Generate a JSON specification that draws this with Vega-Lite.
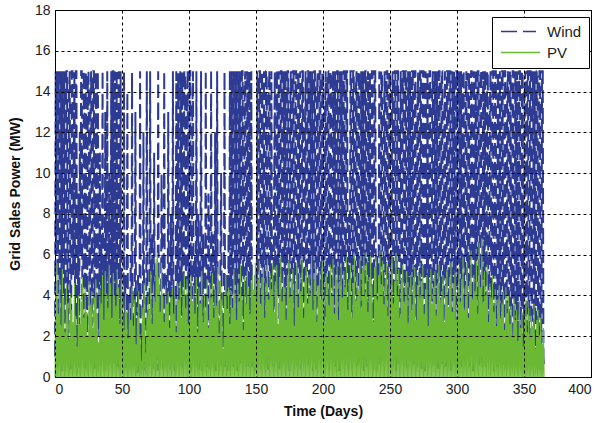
{
"$schema":"https://vega.github.io/schema/vega-lite/v6.json",
"width":536,"height":367,
"autosize":{"type":"none"},
"padding":{"left":55,"top":10,"right":14,"bottom":46},
"background":"white",
"config":{"view":{"stroke":"black","strokeWidth":1},"font":"Liberation Sans"},
"data":{"values":[
{"t":0,"Wind":1,"PV":0},{"t":0.5,"Wind":15,"PV":4.2},
{"t":1,"Wind":6,"PV":0},{"t":1.5,"Wind":15,"PV":5.6},
{"t":2,"Wind":0.5,"PV":0},{"t":2.5,"Wind":13,"PV":3.1},
{"t":3,"Wind":15,"PV":0},{"t":3.5,"Wind":2,"PV":4.8},
{"t":4,"Wind":9,"PV":0},{"t":4.5,"Wind":15,"PV":2.5},
{"t":5,"Wind":0.3,"PV":0},{"t":5.5,"Wind":15,"PV":5.3},
{"t":6,"Wind":12,"PV":0},{"t":6.5,"Wind":3,"PV":3.9},
{"t":7,"Wind":15,"PV":0},{"t":7.5,"Wind":1,"PV":2.2},
{"t":8,"Wind":4,"PV":0},{"t":8.5,"Wind":15,"PV":4.5},
{"t":9,"Wind":15,"PV":0},{"t":9.5,"Wind":0.8,"PV":3.6},
{"t":10,"Wind":7,"PV":0},{"t":10.5,"Wind":14,"PV":1.8},
{"t":11,"Wind":15,"PV":0},{"t":11.5,"Wind":2,"PV":4.1},
{"t":12,"Wind":0.4,"PV":0},{"t":12.5,"Wind":15,"PV":3.3},
{"t":13,"Wind":15,"PV":0},{"t":13.5,"Wind":5,"PV":2.7},
{"t":14,"Wind":11,"PV":0},{"t":14.5,"Wind":15,"PV":4.6},
{"t":15,"Wind":1.5,"PV":0},{"t":15.5,"Wind":15,"PV":3.0},
{"t":16,"Wind":15,"PV":0},{"t":16.5,"Wind":0.6,"PV":1.5},
{"t":17,"Wind":3,"PV":0},{"t":17.5,"Wind":9,"PV":4.0},
{"t":18,"Wind":0.5,"PV":0},{"t":18.5,"Wind":12,"PV":2.6},
{"t":19,"Wind":6,"PV":0},{"t":19.5,"Wind":15,"PV":3.7},
{"t":20,"Wind":15,"PV":0},{"t":20.5,"Wind":1,"PV":4.9},
{"t":21,"Wind":2,"PV":0},{"t":21.5,"Wind":15,"PV":2.9},
{"t":22,"Wind":13,"PV":0},{"t":22.5,"Wind":0.3,"PV":4.4},
{"t":23,"Wind":15,"PV":0},{"t":23.5,"Wind":4,"PV":3.2},
{"t":24,"Wind":0.7,"PV":0},{"t":24.5,"Wind":15,"PV":2.0},
{"t":25,"Wind":15,"PV":0},{"t":25.5,"Wind":8,"PV":4.7},
{"t":26,"Wind":1,"PV":0},{"t":26.5,"Wind":14,"PV":3.5},
{"t":27,"Wind":15,"PV":0},{"t":27.5,"Wind":2.5,"PV":4.2},
{"t":28,"Wind":5,"PV":0},{"t":28.5,"Wind":15,"PV":2.4},
{"t":29,"Wind":15,"PV":0},{"t":29.5,"Wind":0.4,"PV":3.9},
{"t":30,"Wind":10,"PV":0},{"t":30.5,"Wind":15,"PV":4.8},
{"t":31,"Wind":0.8,"PV":0},{"t":31.5,"Wind":15,"PV":3.1},
{"t":32,"Wind":15,"PV":0},{"t":32.5,"Wind":3,"PV":1.7},
{"t":33,"Wind":2,"PV":0},{"t":33.5,"Wind":11,"PV":4.3},
{"t":34,"Wind":0.5,"PV":0},{"t":34.5,"Wind":7,"PV":3.6},
{"t":35,"Wind":4,"PV":0},{"t":35.5,"Wind":15,"PV":5.0},
{"t":36,"Wind":1,"PV":0},{"t":36.5,"Wind":6,"PV":2.8},
{"t":37,"Wind":0.3,"PV":0},{"t":37.5,"Wind":13,"PV":5.2},
{"t":38,"Wind":3,"PV":0},{"t":38.5,"Wind":2,"PV":4.1},
{"t":39,"Wind":15,"PV":0},{"t":39.5,"Wind":1,"PV":3.4},
{"t":40,"Wind":0.6,"PV":0},{"t":40.5,"Wind":10,"PV":5.5},
{"t":41,"Wind":2,"PV":0},{"t":41.5,"Wind":5,"PV":4.6},
{"t":42,"Wind":15,"PV":0},{"t":42.5,"Wind":0.8,"PV":2.9},
{"t":43,"Wind":15,"PV":0},{"t":43.5,"Wind":15,"PV":5.1},
{"t":44,"Wind":0.7,"PV":0},{"t":44.5,"Wind":15,"PV":4.0},
{"t":45,"Wind":12,"PV":0},{"t":45.5,"Wind":2,"PV":3.5},
{"t":46,"Wind":15,"PV":0},{"t":46.5,"Wind":0.5,"PV":5.3},
{"t":47,"Wind":3,"PV":0},{"t":47.5,"Wind":15,"PV":4.4},
{"t":48,"Wind":0.4,"PV":0},{"t":48.5,"Wind":4,"PV":2.6},
{"t":49,"Wind":15,"PV":0},{"t":49.5,"Wind":1,"PV":4.8},
{"t":50,"Wind":2,"PV":0},{"t":50.5,"Wind":3,"PV":3.9},
{"t":51,"Wind":0.5,"PV":0},{"t":51.5,"Wind":15,"PV":2.3},
{"t":52,"Wind":1,"PV":0},{"t":52.5,"Wind":5,"PV":4.1},
{"t":53,"Wind":0.3,"PV":0},{"t":53.5,"Wind":2,"PV":3.2},
{"t":54,"Wind":14,"PV":0},{"t":54.5,"Wind":1,"PV":1.9},
{"t":55,"Wind":4,"PV":0},{"t":55.5,"Wind":0.5,"PV":3.6},
{"t":56,"Wind":2,"PV":0},{"t":56.5,"Wind":6,"PV":2.8},
{"t":57,"Wind":0.4,"PV":0},{"t":57.5,"Wind":15,"PV":4.4},
{"t":58,"Wind":1.5,"PV":0},{"t":58.5,"Wind":3,"PV":2.5},
{"t":59,"Wind":0.5,"PV":0},{"t":59.5,"Wind":2,"PV":3.8},
{"t":60,"Wind":13,"PV":0},{"t":60.5,"Wind":1,"PV":1.6},
{"t":61,"Wind":3,"PV":0},{"t":61.5,"Wind":0.2,"PV":3.0},
{"t":62,"Wind":5,"PV":0},{"t":62.5,"Wind":1.5,"PV":4.2},
{"t":63,"Wind":0.3,"PV":0},{"t":63.5,"Wind":15,"PV":2.1},
{"t":64,"Wind":0.5,"PV":0},{"t":64.5,"Wind":1,"PV":0.8},
{"t":65,"Wind":2,"PV":0},{"t":65.5,"Wind":0.4,"PV":3.4},
{"t":66,"Wind":12,"PV":0},{"t":66.5,"Wind":3,"PV":4.6},
{"t":67,"Wind":0.3,"PV":0},{"t":67.5,"Wind":0.5,"PV":1.2},
{"t":68,"Wind":1,"PV":0},{"t":68.5,"Wind":15,"PV":2.9},
{"t":69,"Wind":4,"PV":0},{"t":69.5,"Wind":0.6,"PV":4.0},
{"t":70,"Wind":0.5,"PV":0},{"t":70.5,"Wind":2,"PV":3.3},
{"t":71,"Wind":15,"PV":0},{"t":71.5,"Wind":1,"PV":5.2},
{"t":72,"Wind":3,"PV":0},{"t":72.5,"Wind":7,"PV":2.6},
{"t":73,"Wind":0.4,"PV":0},{"t":73.5,"Wind":1,"PV":4.5},
{"t":74,"Wind":11,"PV":0},{"t":74.5,"Wind":2,"PV":3.7},
{"t":75,"Wind":0.6,"PV":0},{"t":75.5,"Wind":5,"PV":5.8},
{"t":76,"Wind":2,"PV":0},{"t":76.5,"Wind":0.3,"PV":6.1},
{"t":77,"Wind":15,"PV":0},{"t":77.5,"Wind":1.5,"PV":4.9},
{"t":78,"Wind":0.5,"PV":0},{"t":78.5,"Wind":4,"PV":3.2},
{"t":79,"Wind":1,"PV":0},{"t":79.5,"Wind":10,"PV":5.6},
{"t":80,"Wind":6,"PV":0},{"t":80.5,"Wind":0.4,"PV":4.0},
{"t":81,"Wind":0.3,"PV":0},{"t":81.5,"Wind":15,"PV":2.7},
{"t":82,"Wind":2,"PV":0},{"t":82.5,"Wind":1,"PV":4.5},
{"t":83,"Wind":5,"PV":0},{"t":83.5,"Wind":0.5,"PV":3.6},
{"t":84,"Wind":0.8,"PV":0},{"t":84.5,"Wind":13,"PV":4.2},
{"t":85,"Wind":3,"PV":0},{"t":85.5,"Wind":1,"PV":2.4},
{"t":86,"Wind":0.4,"PV":0},{"t":86.5,"Wind":8,"PV":3.9},
{"t":87,"Wind":1,"PV":0},{"t":87.5,"Wind":2,"PV":4.4},
{"t":88,"Wind":15,"PV":0},{"t":88.5,"Wind":0.6,"PV":3.1},
{"t":89,"Wind":4,"PV":0},{"t":89.5,"Wind":0.3,"PV":4.0},
{"t":90,"Wind":0.5,"PV":0},{"t":90.5,"Wind":15,"PV":2.2},
{"t":91,"Wind":9,"PV":0},{"t":91.5,"Wind":2,"PV":4.6},
{"t":92,"Wind":15,"PV":0},{"t":92.5,"Wind":1,"PV":3.8},
{"t":93,"Wind":0.5,"PV":0},{"t":93.5,"Wind":15,"PV":4.7},
{"t":94,"Wind":12,"PV":0},{"t":94.5,"Wind":3,"PV":2.9},
{"t":95,"Wind":15,"PV":0},{"t":95.5,"Wind":0.4,"PV":4.3},
{"t":96,"Wind":2,"PV":0},{"t":96.5,"Wind":15,"PV":5.1},
{"t":97,"Wind":15,"PV":0},{"t":97.5,"Wind":6,"PV":3.4},
{"t":98,"Wind":0.7,"PV":0},{"t":98.5,"Wind":14,"PV":4.8},
{"t":99,"Wind":15,"PV":0},{"t":99.5,"Wind":2,"PV":2.6},
{"t":100,"Wind":4,"PV":0},{"t":100.5,"Wind":15,"PV":4.2},
{"t":101,"Wind":15,"PV":0},{"t":101.5,"Wind":0.3,"PV":5.0},
{"t":102,"Wind":1,"PV":0},{"t":102.5,"Wind":13,"PV":3.7},
{"t":103,"Wind":15,"PV":0},{"t":103.5,"Wind":3,"PV":4.5},
{"t":104,"Wind":2,"PV":0},{"t":104.5,"Wind":6,"PV":3.1},
{"t":105,"Wind":0.5,"PV":0},{"t":105.5,"Wind":15,"PV":4.9},
{"t":106,"Wind":3,"PV":0},{"t":106.5,"Wind":1,"PV":2.2},
{"t":107,"Wind":8,"PV":0},{"t":107.5,"Wind":0.4,"PV":4.4},
{"t":108,"Wind":1,"PV":0},{"t":108.5,"Wind":4,"PV":3.6},
{"t":109,"Wind":15,"PV":0},{"t":109.5,"Wind":2,"PV":5.2},
{"t":110,"Wind":0.3,"PV":0},{"t":110.5,"Wind":7,"PV":2.7},
{"t":111,"Wind":5,"PV":0},{"t":111.5,"Wind":0.8,"PV":4.0},
{"t":112,"Wind":1,"PV":0},{"t":112.5,"Wind":15,"PV":3.3},
{"t":113,"Wind":4,"PV":0},{"t":113.5,"Wind":0.5,"PV":4.8},
{"t":114,"Wind":0.6,"PV":0},{"t":114.5,"Wind":9,"PV":2.4},
{"t":115,"Wind":6,"PV":0},{"t":115.5,"Wind":1,"PV":4.6},
{"t":116,"Wind":0.4,"PV":0},{"t":116.5,"Wind":15,"PV":3.9},
{"t":117,"Wind":2,"PV":0},{"t":117.5,"Wind":3,"PV":5.1},
{"t":118,"Wind":7,"PV":0},{"t":118.5,"Wind":0.5,"PV":2.9},
{"t":119,"Wind":1,"PV":0},{"t":119.5,"Wind":12,"PV":4.3},
{"t":120,"Wind":0.3,"PV":0},{"t":120.5,"Wind":4,"PV":3.5},
{"t":121,"Wind":15,"PV":0},{"t":121.5,"Wind":1.5,"PV":5.4},
{"t":122,"Wind":3,"PV":0},{"t":122.5,"Wind":0.5,"PV":2.1},
{"t":123,"Wind":0.8,"PV":0},{"t":123.5,"Wind":6,"PV":4.7},
{"t":124,"Wind":10,"PV":0},{"t":124.5,"Wind":2,"PV":3.8},
{"t":125,"Wind":0.4,"PV":0},{"t":125.5,"Wind":3,"PV":1.4},
{"t":126,"Wind":2,"PV":0},{"t":126.5,"Wind":15,"PV":4.1},
{"t":127,"Wind":0.5,"PV":0},{"t":127.5,"Wind":1,"PV":5.0},
{"t":128,"Wind":5,"PV":0},{"t":128.5,"Wind":0.3,"PV":3.3},
{"t":129,"Wind":1,"PV":0},{"t":129.5,"Wind":7,"PV":4.4},
{"t":130,"Wind":0.6,"PV":0},{"t":130.5,"Wind":15,"PV":2.6},
{"t":131,"Wind":3,"PV":0},{"t":131.5,"Wind":1,"PV":4.2},
{"t":132,"Wind":15,"PV":0},{"t":132.5,"Wind":2,"PV":3.4},
{"t":133,"Wind":0.5,"PV":0},{"t":133.5,"Wind":15,"PV":5.3},
{"t":134,"Wind":11,"PV":0},{"t":134.5,"Wind":1,"PV":4.1},
{"t":135,"Wind":15,"PV":0},{"t":135.5,"Wind":4,"PV":2.8},
{"t":136,"Wind":0.3,"PV":0},{"t":136.5,"Wind":15,"PV":4.6},
{"t":137,"Wind":13,"PV":0},{"t":137.5,"Wind":2,"PV":3.7},
{"t":138,"Wind":15,"PV":0},{"t":138.5,"Wind":0.6,"PV":5.5},
{"t":139,"Wind":3,"PV":0},{"t":139.5,"Wind":15,"PV":4.0},
{"t":140,"Wind":15,"PV":0},{"t":140.5,"Wind":1,"PV":2.3},
{"t":141,"Wind":0.8,"PV":0},{"t":141.5,"Wind":14,"PV":4.9},
{"t":142,"Wind":15,"PV":0},{"t":142.5,"Wind":5,"PV":3.6},
{"t":143,"Wind":2,"PV":0},{"t":143.5,"Wind":15,"PV":5.2},
{"t":144,"Wind":12,"PV":0},{"t":144.5,"Wind":0.4,"PV":4.4},
{"t":145,"Wind":15,"PV":0},{"t":145.5,"Wind":3,"PV":3.1},
{"t":146,"Wind":1,"PV":0},{"t":146.5,"Wind":15,"PV":4.7},
{"t":147,"Wind":0.5,"PV":0},{"t":147.5,"Wind":3,"PV":5.0},
{"t":148,"Wind":2,"PV":0},{"t":148.5,"Wind":0.8,"PV":4.3},
{"t":149,"Wind":0.3,"PV":0},{"t":149.5,"Wind":5,"PV":5.6},
{"t":150,"Wind":1,"PV":0},{"t":150.5,"Wind":2,"PV":3.9},
{"t":151,"Wind":15,"PV":0},{"t":151.5,"Wind":0.5,"PV":4.8},
{"t":152,"Wind":3,"PV":0},{"t":152.5,"Wind":15,"PV":5.7},
{"t":153,"Wind":15,"PV":0},{"t":153.5,"Wind":1,"PV":3.5},
{"t":154,"Wind":0.4,"PV":0},{"t":154.5,"Wind":15,"PV":4.9},
{"t":155,"Wind":12,"PV":0},{"t":155.5,"Wind":2,"PV":5.4},
{"t":156,"Wind":15,"PV":0},{"t":156.5,"Wind":0.6,"PV":2.9},
{"t":157,"Wind":4,"PV":0},{"t":157.5,"Wind":15,"PV":4.6},
{"t":158,"Wind":15,"PV":0},{"t":158.5,"Wind":1,"PV":5.8},
{"t":159,"Wind":0.3,"PV":0},{"t":159.5,"Wind":14,"PV":3.8},
{"t":160,"Wind":15,"PV":0},{"t":160.5,"Wind":3,"PV":5.1},
{"t":161,"Wind":1,"PV":0},{"t":161.5,"Wind":15,"PV":4.3},
{"t":162,"Wind":2,"PV":0},{"t":162.5,"Wind":5,"PV":5.6},
{"t":163,"Wind":0.5,"PV":0},{"t":163.5,"Wind":9,"PV":3.2},
{"t":164,"Wind":15,"PV":0},{"t":164.5,"Wind":1,"PV":4.7},
{"t":165,"Wind":0.8,"PV":0},{"t":165.5,"Wind":15,"PV":5.5},
{"t":166,"Wind":13,"PV":0},{"t":166.5,"Wind":4,"PV":2.6},
{"t":167,"Wind":15,"PV":0},{"t":167.5,"Wind":0.4,"PV":4.9},
{"t":168,"Wind":2,"PV":0},{"t":168.5,"Wind":15,"PV":5.9},
{"t":169,"Wind":15,"PV":0},{"t":169.5,"Wind":1,"PV":3.7},
{"t":170,"Wind":0.6,"PV":0},{"t":170.5,"Wind":15,"PV":5.2},
{"t":171,"Wind":11,"PV":0},{"t":171.5,"Wind":3,"PV":4.4},
{"t":172,"Wind":15,"PV":0},{"t":172.5,"Wind":0.5,"PV":2.8},
{"t":173,"Wind":1,"PV":0},{"t":173.5,"Wind":15,"PV":5.0},
{"t":174,"Wind":15,"PV":0},{"t":174.5,"Wind":2,"PV":5.7},
{"t":175,"Wind":0.3,"PV":0},{"t":175.5,"Wind":13,"PV":3.9},
{"t":176,"Wind":15,"PV":0},{"t":176.5,"Wind":6,"PV":4.8},
{"t":177,"Wind":2,"PV":0},{"t":177.5,"Wind":15,"PV":5.3},
{"t":178,"Wind":15,"PV":0},{"t":178.5,"Wind":0.7,"PV":2.5},
{"t":179,"Wind":4,"PV":0},{"t":179.5,"Wind":15,"PV":4.6},
{"t":180,"Wind":15,"PV":0},{"t":180.5,"Wind":1,"PV":5.6},
{"t":181,"Wind":0.5,"PV":0},{"t":181.5,"Wind":15,"PV":3.4},
{"t":182,"Wind":14,"PV":0},{"t":182.5,"Wind":2,"PV":5.1},
{"t":183,"Wind":15,"PV":0},{"t":183.5,"Wind":0.4,"PV":4.2},
{"t":184,"Wind":1,"PV":0},{"t":184.5,"Wind":15,"PV":5.8},
{"t":185,"Wind":15,"PV":0},{"t":185.5,"Wind":3,"PV":2.9},
{"t":186,"Wind":0.6,"PV":0},{"t":186.5,"Wind":12,"PV":4.7},
{"t":187,"Wind":15,"PV":0},{"t":187.5,"Wind":1,"PV":5.4},
{"t":188,"Wind":2,"PV":0},{"t":188.5,"Wind":15,"PV":3.6},
{"t":189,"Wind":15,"PV":0},{"t":189.5,"Wind":0.5,"PV":5.0},
{"t":190,"Wind":0.8,"PV":0},{"t":190.5,"Wind":15,"PV":4.1},
{"t":191,"Wind":10,"PV":0},{"t":191.5,"Wind":2,"PV":5.9},
{"t":192,"Wind":15,"PV":0},{"t":192.5,"Wind":0.3,"PV":3.3},
{"t":193,"Wind":3,"PV":0},{"t":193.5,"Wind":15,"PV":4.8},
{"t":194,"Wind":15,"PV":0},{"t":194.5,"Wind":1,"PV":5.5},
{"t":195,"Wind":0.4,"PV":0},{"t":195.5,"Wind":14,"PV":2.7},
{"t":196,"Wind":15,"PV":0},{"t":196.5,"Wind":5,"PV":4.5},
{"t":197,"Wind":1,"PV":0},{"t":197.5,"Wind":15,"PV":5.2},
{"t":198,"Wind":15,"PV":0},{"t":198.5,"Wind":0.6,"PV":3.8},
{"t":199,"Wind":2,"PV":0},{"t":199.5,"Wind":15,"PV":5.7},
{"t":200,"Wind":15,"PV":0},{"t":200.5,"Wind":1,"PV":4.3},
{"t":201,"Wind":0.5,"PV":0},{"t":201.5,"Wind":13,"PV":2.6},
{"t":202,"Wind":15,"PV":0},{"t":202.5,"Wind":3,"PV":5.1},
{"t":203,"Wind":1,"PV":0},{"t":203.5,"Wind":15,"PV":4.6},
{"t":204,"Wind":15,"PV":0},{"t":204.5,"Wind":0.4,"PV":3.5},
{"t":205,"Wind":4,"PV":0},{"t":205.5,"Wind":15,"PV":5.5},
{"t":206,"Wind":15,"PV":0},{"t":206.5,"Wind":2,"PV":4.0},
{"t":207,"Wind":0.7,"PV":0},{"t":207.5,"Wind":15,"PV":5.8},
{"t":208,"Wind":12,"PV":0},{"t":208.5,"Wind":1,"PV":3.1},
{"t":209,"Wind":15,"PV":0},{"t":209.5,"Wind":0.5,"PV":4.9},
{"t":210,"Wind":2,"PV":0},{"t":210.5,"Wind":15,"PV":5.4},
{"t":211,"Wind":15,"PV":0},{"t":211.5,"Wind":6,"PV":2.8},
{"t":212,"Wind":0.3,"PV":0},{"t":212.5,"Wind":15,"PV":4.7},
{"t":213,"Wind":14,"PV":0},{"t":213.5,"Wind":1,"PV":5.6},
{"t":214,"Wind":15,"PV":0},{"t":214.5,"Wind":3,"PV":3.9},
{"t":215,"Wind":1,"PV":0},{"t":215.5,"Wind":15,"PV":5.2},
{"t":216,"Wind":15,"PV":0},{"t":216.5,"Wind":0.6,"PV":4.4},
{"t":217,"Wind":5,"PV":0},{"t":217.5,"Wind":15,"PV":5.9},
{"t":218,"Wind":15,"PV":0},{"t":218.5,"Wind":2,"PV":3.3},
{"t":219,"Wind":0.4,"PV":0},{"t":219.5,"Wind":8,"PV":4.8},
{"t":220,"Wind":2,"PV":0},{"t":220.5,"Wind":15,"PV":5.5},
{"t":221,"Wind":15,"PV":0},{"t":221.5,"Wind":1,"PV":2.9},
{"t":222,"Wind":0.8,"PV":0},{"t":222.5,"Wind":15,"PV":4.6},
{"t":223,"Wind":15,"PV":0},{"t":223.5,"Wind":4,"PV":6.0},
{"t":224,"Wind":1,"PV":0},{"t":224.5,"Wind":14,"PV":3.7},
{"t":225,"Wind":15,"PV":0},{"t":225.5,"Wind":0.5,"PV":5.1},
{"t":226,"Wind":3,"PV":0},{"t":226.5,"Wind":15,"PV":4.3},
{"t":227,"Wind":15,"PV":0},{"t":227.5,"Wind":1,"PV":5.8},
{"t":228,"Wind":0.6,"PV":0},{"t":228.5,"Wind":15,"PV":3.4},
{"t":229,"Wind":11,"PV":0},{"t":229.5,"Wind":2,"PV":5.3},
{"t":230,"Wind":15,"PV":0},{"t":230.5,"Wind":0.3,"PV":6.1},
{"t":231,"Wind":2,"PV":0},{"t":231.5,"Wind":15,"PV":4.0},
{"t":232,"Wind":15,"PV":0},{"t":232.5,"Wind":5,"PV":5.6},
{"t":233,"Wind":0.5,"PV":0},{"t":233.5,"Wind":15,"PV":3.2},
{"t":234,"Wind":13,"PV":0},{"t":234.5,"Wind":1,"PV":4.9},
{"t":235,"Wind":15,"PV":0},{"t":235.5,"Wind":3,"PV":6.0},
{"t":236,"Wind":1,"PV":0},{"t":236.5,"Wind":15,"PV":4.5},
{"t":237,"Wind":15,"PV":0},{"t":237.5,"Wind":0.4,"PV":2.7},
{"t":238,"Wind":4,"PV":0},{"t":238.5,"Wind":15,"PV":5.4},
{"t":239,"Wind":15,"PV":0},{"t":239.5,"Wind":2,"PV":5.9},
{"t":240,"Wind":0.3,"PV":0},{"t":240.5,"Wind":6,"PV":3.8},
{"t":241,"Wind":1,"PV":0},{"t":241.5,"Wind":4,"PV":5.0},
{"t":242,"Wind":15,"PV":0},{"t":242.5,"Wind":0.6,"PV":6.2},
{"t":243,"Wind":2,"PV":0},{"t":243.5,"Wind":15,"PV":4.4},
{"t":244,"Wind":15,"PV":0},{"t":244.5,"Wind":1,"PV":5.7},
{"t":245,"Wind":0.8,"PV":0},{"t":245.5,"Wind":13,"PV":3.5},
{"t":246,"Wind":15,"PV":0},{"t":246.5,"Wind":4,"PV":4.8},
{"t":247,"Wind":1,"PV":0},{"t":247.5,"Wind":15,"PV":5.6},
{"t":248,"Wind":15,"PV":0},{"t":248.5,"Wind":0.5,"PV":3.0},
{"t":249,"Wind":3,"PV":0},{"t":249.5,"Wind":15,"PV":5.2},
{"t":250,"Wind":15,"PV":0},{"t":250.5,"Wind":1,"PV":4.1},
{"t":251,"Wind":0.4,"PV":0},{"t":251.5,"Wind":14,"PV":5.9},
{"t":252,"Wind":15,"PV":0},{"t":252.5,"Wind":2,"PV":3.6},
{"t":253,"Wind":1,"PV":0},{"t":253.5,"Wind":15,"PV":4.7},
{"t":254,"Wind":15,"PV":0},{"t":254.5,"Wind":0.3,"PV":6.1},
{"t":255,"Wind":5,"PV":0},{"t":255.5,"Wind":15,"PV":4.0},
{"t":256,"Wind":15,"PV":0},{"t":256.5,"Wind":1,"PV":5.3},
{"t":257,"Wind":0.6,"PV":0},{"t":257.5,"Wind":12,"PV":2.9},
{"t":258,"Wind":15,"PV":0},{"t":258.5,"Wind":3,"PV":4.8},
{"t":259,"Wind":2,"PV":0},{"t":259.5,"Wind":15,"PV":5.5},
{"t":260,"Wind":15,"PV":0},{"t":260.5,"Wind":0.5,"PV":3.7},
{"t":261,"Wind":1,"PV":0},{"t":261.5,"Wind":15,"PV":4.6},
{"t":262,"Wind":15,"PV":0},{"t":262.5,"Wind":2,"PV":5.2},
{"t":263,"Wind":0.4,"PV":0},{"t":263.5,"Wind":15,"PV":2.6},
{"t":264,"Wind":14,"PV":0},{"t":264.5,"Wind":1,"PV":4.4},
{"t":265,"Wind":15,"PV":0},{"t":265.5,"Wind":4,"PV":5.0},
{"t":266,"Wind":0.8,"PV":0},{"t":266.5,"Wind":15,"PV":3.3},
{"t":267,"Wind":15,"PV":0},{"t":267.5,"Wind":0.6,"PV":4.9},
{"t":268,"Wind":3,"PV":0},{"t":268.5,"Wind":15,"PV":5.4},
{"t":269,"Wind":15,"PV":0},{"t":269.5,"Wind":1,"PV":2.8},
{"t":270,"Wind":0.5,"PV":0},{"t":270.5,"Wind":13,"PV":4.5},
{"t":271,"Wind":15,"PV":0},{"t":271.5,"Wind":2,"PV":5.1},
{"t":272,"Wind":1,"PV":0},{"t":272.5,"Wind":15,"PV":3.9},
{"t":273,"Wind":15,"PV":0},{"t":273.5,"Wind":0.4,"PV":4.7},
{"t":274,"Wind":6,"PV":0},{"t":274.5,"Wind":15,"PV":5.5},
{"t":275,"Wind":15,"PV":0},{"t":275.5,"Wind":1,"PV":3.1},
{"t":276,"Wind":0.3,"PV":0},{"t":276.5,"Wind":15,"PV":4.3},
{"t":277,"Wind":12,"PV":0},{"t":277.5,"Wind":3,"PV":5.0},
{"t":278,"Wind":15,"PV":0},{"t":278.5,"Wind":0.5,"PV":2.5},
{"t":279,"Wind":2,"PV":0},{"t":279.5,"Wind":15,"PV":4.8},
{"t":280,"Wind":15,"PV":0},{"t":280.5,"Wind":1,"PV":5.3},
{"t":281,"Wind":0.7,"PV":0},{"t":281.5,"Wind":14,"PV":3.6},
{"t":282,"Wind":15,"PV":0},{"t":282.5,"Wind":4,"PV":4.4},
{"t":283,"Wind":1,"PV":0},{"t":283.5,"Wind":15,"PV":5.2},
{"t":284,"Wind":0.5,"PV":0},{"t":284.5,"Wind":7,"PV":3.0},
{"t":285,"Wind":15,"PV":0},{"t":285.5,"Wind":2,"PV":4.6},
{"t":286,"Wind":0.4,"PV":0},{"t":286.5,"Wind":15,"PV":5.5},
{"t":287,"Wind":15,"PV":0},{"t":287.5,"Wind":1,"PV":3.8},
{"t":288,"Wind":3,"PV":0},{"t":288.5,"Wind":15,"PV":4.2},
{"t":289,"Wind":15,"PV":0},{"t":289.5,"Wind":0.6,"PV":5.0},
{"t":290,"Wind":1,"PV":0},{"t":290.5,"Wind":13,"PV":2.7},
{"t":291,"Wind":15,"PV":0},{"t":291.5,"Wind":5,"PV":4.5},
{"t":292,"Wind":0.5,"PV":0},{"t":292.5,"Wind":15,"PV":5.3},
{"t":293,"Wind":15,"PV":0},{"t":293.5,"Wind":2,"PV":3.4},
{"t":294,"Wind":2,"PV":0},{"t":294.5,"Wind":15,"PV":4.9},
{"t":295,"Wind":15,"PV":0},{"t":295.5,"Wind":0.3,"PV":5.6},
{"t":296,"Wind":1,"PV":0},{"t":296.5,"Wind":15,"PV":3.2},
{"t":297,"Wind":14,"PV":0},{"t":297.5,"Wind":3,"PV":4.6},
{"t":298,"Wind":15,"PV":0},{"t":298.5,"Wind":0.8,"PV":5.1},
{"t":299,"Wind":4,"PV":0},{"t":299.5,"Wind":15,"PV":2.8},
{"t":300,"Wind":15,"PV":0},{"t":300.5,"Wind":1,"PV":4.4},
{"t":301,"Wind":0.5,"PV":0},{"t":301.5,"Wind":15,"PV":5.4},
{"t":302,"Wind":12,"PV":0},{"t":302.5,"Wind":2,"PV":3.7},
{"t":303,"Wind":15,"PV":0},{"t":303.5,"Wind":0.4,"PV":4.8},
{"t":304,"Wind":2,"PV":0},{"t":304.5,"Wind":15,"PV":5.9},
{"t":305,"Wind":15,"PV":0},{"t":305.5,"Wind":1,"PV":3.3},
{"t":306,"Wind":0.6,"PV":0},{"t":306.5,"Wind":14,"PV":4.5},
{"t":307,"Wind":15,"PV":0},{"t":307.5,"Wind":3,"PV":5.6},
{"t":308,"Wind":1,"PV":0},{"t":308.5,"Wind":15,"PV":2.9},
{"t":309,"Wind":15,"PV":0},{"t":309.5,"Wind":0.5,"PV":4.7},
{"t":310,"Wind":5,"PV":0},{"t":310.5,"Wind":15,"PV":6.2},
{"t":311,"Wind":15,"PV":0},{"t":311.5,"Wind":2,"PV":3.8},
{"t":312,"Wind":0.3,"PV":0},{"t":312.5,"Wind":15,"PV":5.0},
{"t":313,"Wind":13,"PV":0},{"t":313.5,"Wind":1,"PV":4.2},
{"t":314,"Wind":15,"PV":0},{"t":314.5,"Wind":4,"PV":5.7},
{"t":315,"Wind":1,"PV":0},{"t":315.5,"Wind":15,"PV":3.1},
{"t":316,"Wind":15,"PV":0},{"t":316.5,"Wind":0.6,"PV":6.6},
{"t":317,"Wind":3,"PV":0},{"t":317.5,"Wind":15,"PV":4.4},
{"t":318,"Wind":15,"PV":0},{"t":318.5,"Wind":1,"PV":6.8},
{"t":319,"Wind":0.5,"PV":0},{"t":319.5,"Wind":15,"PV":3.6},
{"t":320,"Wind":14,"PV":0},{"t":320.5,"Wind":2,"PV":5.2},
{"t":321,"Wind":15,"PV":0},{"t":321.5,"Wind":0.4,"PV":4.0},
{"t":322,"Wind":2,"PV":0},{"t":322.5,"Wind":15,"PV":5.5},
{"t":323,"Wind":15,"PV":0},{"t":323.5,"Wind":1,"PV":2.7},
{"t":324,"Wind":0.8,"PV":0},{"t":324.5,"Wind":13,"PV":4.6},
{"t":325,"Wind":15,"PV":0},{"t":325.5,"Wind":5,"PV":3.9},
{"t":326,"Wind":1,"PV":0},{"t":326.5,"Wind":15,"PV":5.0},
{"t":327,"Wind":15,"PV":0},{"t":327.5,"Wind":0.3,"PV":3.2},
{"t":328,"Wind":4,"PV":0},{"t":328.5,"Wind":15,"PV":4.3},
{"t":329,"Wind":15,"PV":0},{"t":329.5,"Wind":2,"PV":2.5},
{"t":330,"Wind":0.5,"PV":0},{"t":330.5,"Wind":15,"PV":3.8},
{"t":331,"Wind":12,"PV":0},{"t":331.5,"Wind":1,"PV":4.5},
{"t":332,"Wind":15,"PV":0},{"t":332.5,"Wind":3,"PV":2.9},
{"t":333,"Wind":1,"PV":0},{"t":333.5,"Wind":15,"PV":3.6},
{"t":334,"Wind":15,"PV":0},{"t":334.5,"Wind":0.6,"PV":4.2},
{"t":335,"Wind":2,"PV":0},{"t":335.5,"Wind":15,"PV":2.3},
{"t":336,"Wind":15,"PV":0},{"t":336.5,"Wind":1,"PV":4.4},
{"t":337,"Wind":0.4,"PV":0},{"t":337.5,"Wind":14,"PV":3.1},
{"t":338,"Wind":15,"PV":0},{"t":338.5,"Wind":4,"PV":4.0},
{"t":339,"Wind":1,"PV":0},{"t":339.5,"Wind":15,"PV":2.6},
{"t":340,"Wind":15,"PV":0},{"t":340.5,"Wind":0.5,"PV":3.5},
{"t":341,"Wind":3,"PV":0},{"t":341.5,"Wind":15,"PV":1.9},
{"t":342,"Wind":15,"PV":0},{"t":342.5,"Wind":2,"PV":3.9},
{"t":343,"Wind":0.6,"PV":0},{"t":343.5,"Wind":15,"PV":2.8},
{"t":344,"Wind":13,"PV":0},{"t":344.5,"Wind":1,"PV":3.3},
{"t":345,"Wind":15,"PV":0},{"t":345.5,"Wind":0.3,"PV":1.7},
{"t":346,"Wind":2,"PV":0},{"t":346.5,"Wind":15,"PV":3.7},
{"t":347,"Wind":15,"PV":0},{"t":347.5,"Wind":5,"PV":2.4},
{"t":348,"Wind":0.5,"PV":0},{"t":348.5,"Wind":15,"PV":3.2},
{"t":349,"Wind":15,"PV":0},{"t":349.5,"Wind":1,"PV":1.5},
{"t":350,"Wind":1,"PV":0},{"t":350.5,"Wind":14,"PV":2.9},
{"t":351,"Wind":15,"PV":0},{"t":351.5,"Wind":3,"PV":3.8},
{"t":352,"Wind":0.4,"PV":0},{"t":352.5,"Wind":15,"PV":2.2},
{"t":353,"Wind":15,"PV":0},{"t":353.5,"Wind":0.8,"PV":3.4},
{"t":354,"Wind":4,"PV":0},{"t":354.5,"Wind":15,"PV":1.8},
{"t":355,"Wind":15,"PV":0},{"t":355.5,"Wind":2,"PV":3.0},
{"t":356,"Wind":0.6,"PV":0},{"t":356.5,"Wind":15,"PV":2.5},
{"t":357,"Wind":12,"PV":0},{"t":357.5,"Wind":1,"PV":3.6},
{"t":358,"Wind":15,"PV":0},{"t":358.5,"Wind":0.5,"PV":1.4},
{"t":359,"Wind":2,"PV":0},{"t":359.5,"Wind":15,"PV":2.8},
{"t":360,"Wind":15,"PV":0},{"t":360.5,"Wind":3,"PV":3.3},
{"t":361,"Wind":1,"PV":0},{"t":361.5,"Wind":15,"PV":2.0},
{"t":362,"Wind":15,"PV":0},{"t":362.5,"Wind":0.4,"PV":2.9},
{"t":363,"Wind":3,"PV":0},{"t":363.5,"Wind":15,"PV":1.6},
{"t":364,"Wind":15,"PV":0},{"t":364.5,"Wind":1,"PV":2.4},
{"t":365,"Wind":0.5,"PV":0}
]},
"transform":[{"fold":["Wind","PV"],"as":["series","power"]}],
"encoding":{
"x":{"field":"t","type":"quantitative","scale":{"domain":[0,400],"nice":false,"zero":false},
"axis":{"title":"Time (Days)","values":[0,50,100,150,200,250,300,350,400],"grid":true,"gridColor":"black","gridDash":[3,3],"gridOpacity":1,"gridWidth":1,"domain":false,"ticks":false,"labelFontSize":14,"labelColor":"#222222","labelPadding":5,"labelFont":"Liberation Sans","titleFont":"Liberation Sans","titleFontSize":14,"titleFontWeight":"bold","titleColor":"#111111","titlePadding":8,"zindex":1}},
"y":{"field":"power","type":"quantitative","scale":{"domain":[0,18],"nice":false},
"axis":{"title":"Grid Sales Power (MW)","values":[0,2,4,6,8,10,12,14,16,18],"grid":true,"gridColor":"black","gridDash":[3,3],"gridOpacity":1,"gridWidth":1,"domain":false,"ticks":false,"labelFontSize":14,"labelColor":"#222222","labelPadding":5,"labelFont":"Liberation Sans","titleFont":"Liberation Sans","titleFontSize":14,"titleFontWeight":"bold","titleColor":"#111111","titlePadding":12,"zindex":1}},
"color":{"field":"series","type":"nominal","scale":{"domain":["Wind","PV"],"range":["#2e3b92","#6ab833"]},
"legend":{"title":null,"orient":"none","legendX":437,"legendY":7,"strokeColor":"black","fillColor":"white","padding":7,"symbolType":"M-1.1,0H6.7","symbolSize":100,"symbolStrokeWidth":1.3,"labelFontSize":15,"labelFont":"Liberation Sans","labelColor":"#222222","labelOffset":33,"rowPadding":5,"zindex":2}},
"strokeDash":{"field":"series","type":"nominal","scale":{"domain":["Wind","PV"],"range":[[16,6,13,5],[1,0]]},
"legend":{"title":null,"orient":"none","legendX":437,"legendY":7,"strokeColor":"black","fillColor":"white","padding":7,"symbolType":"M-1.1,0H6.7","symbolSize":100,"symbolStrokeWidth":1.3,"labelFontSize":15,"labelFont":"Liberation Sans","labelColor":"#222222","labelOffset":33,"rowPadding":5,"zindex":2}}
},
"layer":[
{"transform":[{"filter":"datum.series === 'Wind'"}],"mark":{"type":"line","strokeWidth":2}},
{"transform":[{"filter":"datum.series === 'PV'"}],"mark":{"type":"line","strokeWidth":1.1}}
]
}
